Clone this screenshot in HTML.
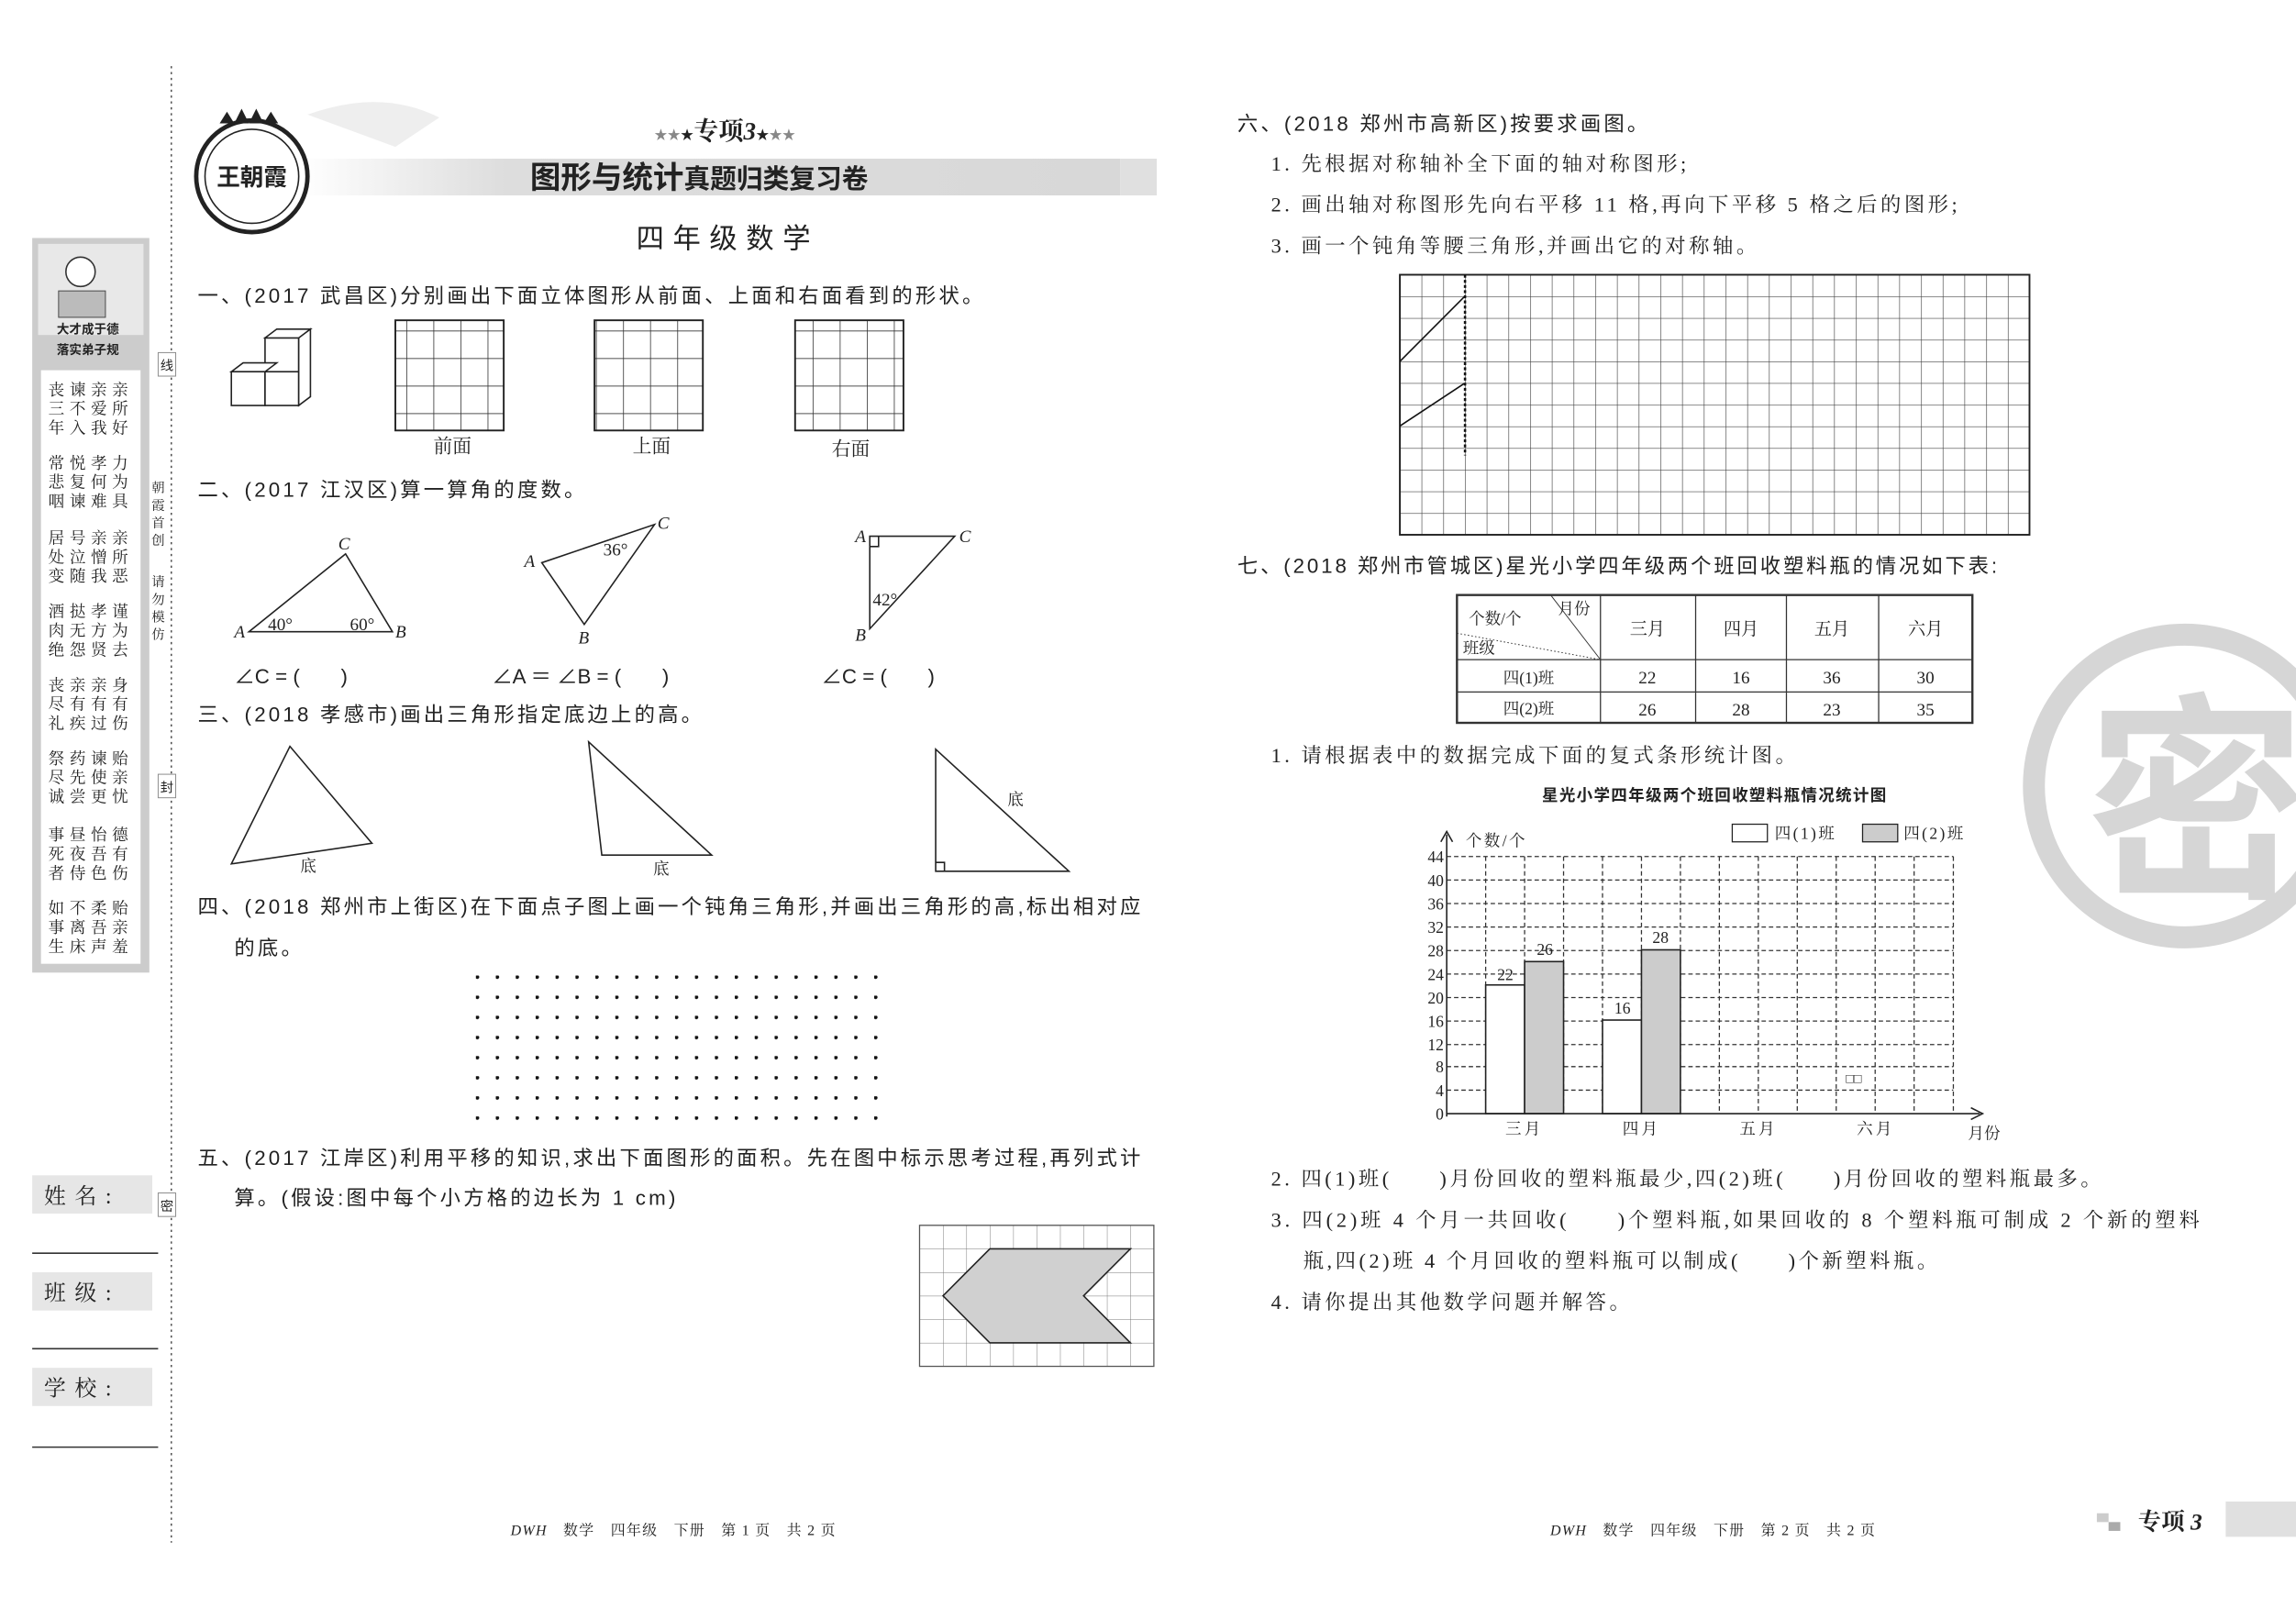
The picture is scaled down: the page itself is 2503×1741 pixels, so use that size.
<!DOCTYPE html>
<html><head><meta charset="utf-8"><style>
html,body{margin:0;padding:0;background:#fff;}
svg{display:block;}
text{font-family:"Liberation Sans","Noto Sans CJK SC",sans-serif;fill:#222;}
.s{font-family:"Liberation Serif","Noto Serif CJK SC",serif;}
.q{letter-spacing:2px;}
.r{letter-spacing:2.2px;}
</style></head><body>
<svg width="2503" height="1741" viewBox="0 0 1568 1087" preserveAspectRatio="none" xmlns="http://www.w3.org/2000/svg">
<defs>
<pattern id="g185" x="0" y="0" width="18.5" height="18.75" patternUnits="userSpaceOnUse"><path d="M0 0H18.5M0 0V18.75" stroke="#333" stroke-width="1" fill="none"/></pattern>
<pattern id="g6" x="956" y="187" width="14.83" height="14.75" patternUnits="userSpaceOnUse"><path d="M0 0H14.83M0 0V14.75" stroke="#444" stroke-width="0.8" fill="none"/></pattern>
<pattern id="g5" x="628" y="834" width="16" height="16" patternUnits="userSpaceOnUse"><path d="M0 0H16M0 0V16" stroke="#777" stroke-width="0.6" fill="none"/></pattern>
<pattern id="dots" x="325" y="664" width="13.6" height="13.7" patternUnits="userSpaceOnUse"><circle cx="1" cy="1" r="1.3" fill="#111"/></pattern>
<linearGradient id="ban" x1="0" x2="1"><stop offset="0" stop-color="#fff"/><stop offset="0.25" stop-color="#ddd"/><stop offset="1" stop-color="#d8d8d8"/></linearGradient>
</defs>

<line x1="117" y1="45" x2="117" y2="1050" stroke="#555" stroke-width="1" stroke-dasharray="1.5 2.5"/>
<rect x="108" y="240" width="12" height="16" fill="#fff" stroke="#888" stroke-width="0.6"/><text x="114" y="252" font-size="9" text-anchor="middle">线</text>
<rect x="108" y="527" width="12" height="16" fill="#fff" stroke="#888" stroke-width="0.6"/><text x="114" y="539" font-size="9" text-anchor="middle">封</text>
<rect x="108" y="812" width="12" height="16" fill="#fff" stroke="#888" stroke-width="0.6"/><text x="114" y="824" font-size="9" text-anchor="middle">密</text>
<g font-size="9" text-anchor="middle" class="s"><text x="108" y="335" class="s">朝</text><text x="108" y="347" class="s">霞</text><text x="108" y="359" class="s">首</text><text x="108" y="371" class="s">创</text><text x="108" y="399" class="s">请</text><text x="108" y="411" class="s">勿</text><text x="108" y="423" class="s">模</text><text x="108" y="435" class="s">仿</text></g>

<rect x="22" y="162" width="80" height="500" fill="#ccc"/>
<rect x="26" y="166" width="72" height="62" fill="#e8e8e8"/>
<circle cx="55" cy="185" r="10" fill="#fff" stroke="#333"/><rect x="40" y="198" width="32" height="18" fill="#bbb" stroke="#444" stroke-width="0.6"/>
<text x="60" y="227" font-size="8.5" font-weight="bold" text-anchor="middle">大才成于德</text>
<text x="60" y="241" font-size="8.5" font-weight="bold" text-anchor="middle">落实弟子规</text>
<rect x="28" y="252" width="68" height="404" fill="#fff"/>
<g font-size="11" class="s" fill="#333">
<text x="33" y="269" class="s" letter-spacing="3.5">丧谏亲亲</text><text x="33" y="282" class="s" letter-spacing="3.5">三不爱所</text><text x="33" y="295" class="s" letter-spacing="3.5">年入我好</text>
<text x="33" y="319" class="s" letter-spacing="3.5">常悦孝力</text><text x="33" y="332" class="s" letter-spacing="3.5">悲复何为</text><text x="33" y="345" class="s" letter-spacing="3.5">咽谏难具</text>
<text x="33" y="370" class="s" letter-spacing="3.5">居号亲亲</text><text x="33" y="383" class="s" letter-spacing="3.5">处泣憎所</text><text x="33" y="396" class="s" letter-spacing="3.5">变随我恶</text>
<text x="33" y="420" class="s" letter-spacing="3.5">酒挞孝谨</text><text x="33" y="433" class="s" letter-spacing="3.5">肉无方为</text><text x="33" y="446" class="s" letter-spacing="3.5">绝怨贤去</text>
<text x="33" y="470" class="s" letter-spacing="3.5">丧亲亲身</text><text x="33" y="483" class="s" letter-spacing="3.5">尽有有有</text><text x="33" y="496" class="s" letter-spacing="3.5">礼疾过伤</text>
<text x="33" y="520" class="s" letter-spacing="3.5">祭药谏贻</text><text x="33" y="533" class="s" letter-spacing="3.5">尽先使亲</text><text x="33" y="546" class="s" letter-spacing="3.5">诚尝更忧</text>
<text x="33" y="572" class="s" letter-spacing="3.5">事昼怡德</text><text x="33" y="585" class="s" letter-spacing="3.5">死夜吾有</text><text x="33" y="598" class="s" letter-spacing="3.5">者侍色伤</text>
<text x="33" y="622" class="s" letter-spacing="3.5">如不柔贻</text><text x="33" y="635" class="s" letter-spacing="3.5">事离吾亲</text><text x="33" y="648" class="s" letter-spacing="3.5">生床声羞</text>
</g>
<g font-size="15" class="s">
<rect x="22" y="800" width="82" height="26" fill="#e6e6e6"/><text x="30" y="819" class="s" letter-spacing="6">姓名:</text>
<line x1="22" y1="853" x2="108" y2="853" stroke="#333"/>
<rect x="22" y="866" width="82" height="26" fill="#e6e6e6"/><text x="30" y="885" class="s" letter-spacing="6">班级:</text>
<line x1="22" y1="918" x2="108" y2="918" stroke="#333"/>
<rect x="22" y="931" width="82" height="26" fill="#e6e6e6"/><text x="30" y="950" class="s" letter-spacing="6">学校:</text>
<line x1="22" y1="985" x2="108" y2="985" stroke="#333"/>
</g>

<path d="M210 78 Q260 60 300 80 L270 100 Z" fill="#eee"/>
<rect x="205" y="108" width="560" height="25" fill="url(#ban)"/>
<rect x="765" y="108" width="25" height="25" fill="#ccc" opacity="0.6"/>
<circle cx="172" cy="120" r="38" fill="#fff" stroke="#222" stroke-width="3"/>
<circle cx="172" cy="120" r="32" fill="none" stroke="#222" stroke-width="1"/>
<text x="172" y="126" font-size="16" font-weight="bold" text-anchor="middle">王朝霞</text>
<path d="M150 84 l5 -8 l5 8 l5 -10 l5 10 l5 -10 l5 10 l5 -8 l5 8 z" fill="#222"/>
<text x="495" y="95" font-size="17" text-anchor="middle" class="s" font-weight="bold"><tspan font-size="9" fill="#888">★★</tspan><tspan font-size="9">★</tspan>专项<tspan font-style="italic">3</tspan><tspan font-size="9">★</tspan><tspan font-size="9" fill="#888">★★</tspan></text>
<text x="362" y="128" font-size="21" font-weight="bold">图形与统计<tspan font-size="18" font-weight="bold">真题归类复习卷</tspan></text>
<text x="497" y="169" font-size="19" text-anchor="middle" letter-spacing="6">四年级数学</text>

<text x="135" y="206" font-size="14" class="q">一、(2017 武昌区)分别画出下面立体图形从前面、上面和右面看到的形状。</text>
<g fill="#fff" stroke="#222" stroke-width="1">
<rect x="158" y="253" width="23" height="23"/><rect x="181" y="253" width="23" height="23"/><rect x="181" y="230" width="23" height="23"/>
<path d="M158 253 l8 -6 h23 l-8 6 z M181 230 l8 -6 h23 l-8 6 z M204 230 l8 -6 v46 l-8 6 z"/>
</g>
<rect x="270" y="218" width="74" height="75" fill="url(#g185)" stroke="#222" stroke-width="1.2"/>
<rect x="406" y="218" width="74" height="75" fill="url(#g185)" stroke="#222" stroke-width="1.2"/>
<rect x="543" y="218" width="74" height="75" fill="url(#g185)" stroke="#222" stroke-width="1.2"/>
<g font-size="13" text-anchor="middle" class="s"><text x="309" y="308" class="s">前面</text><text x="445" y="308" class="s">上面</text><text x="581" y="310" class="s">右面</text></g>

<text x="135" y="338" font-size="14" class="q">二、(2017 江汉区)算一算角的度数。</text>
<g fill="none" stroke="#222" stroke-width="1">
<path d="M170 430 L268 430 L236 377 Z"/><path d="M370 383 L447 357 L399 425 Z"/><path d="M594 365 L652 365 L594 428 Z"/>
<path d="M594 372 h6 v-7"/>
</g>
<g font-size="12" font-style="italic" class="s">
<text x="160" y="434" class="s">A</text><text x="270" y="434" class="s">B</text><text x="231" y="374" class="s">C</text>
<text x="183" y="429" class="s" font-style="normal">40°</text><text x="239" y="429" class="s" font-style="normal">60°</text>
<text x="358" y="386" class="s">A</text><text x="449" y="360" class="s">C</text><text x="395" y="438" class="s">B</text><text x="412" y="378" class="s" font-style="normal">36°</text>
<text x="584" y="369" class="s">A</text><text x="655" y="369" class="s">C</text><text x="584" y="436" class="s">B</text><text x="596" y="412" class="s" font-style="normal">42°</text>
</g>
<g font-size="14"><text x="160" y="465">∠C = (　　)</text><text x="336" y="465">∠A ＝ ∠B = (　　)</text><text x="561" y="465">∠C = (　　)</text></g>

<text x="135" y="491" font-size="14" class="q">三、(2018 孝感市)画出三角形指定底边上的高。</text>
<g fill="none" stroke="#222" stroke-width="1">
<path d="M158 588 L198 508 L254 574 Z"/><path d="M402 505 L411 582 L486 582 Z"/><path d="M639 510 L639 593 L730 593 Z"/><path d="M639 587 h6 v6"/>
</g>
<g font-size="11" class="s"><text x="205" y="593" class="s">底</text><text x="446" y="595" class="s">底</text><text x="688" y="548" class="s">底</text></g>

<text x="135" y="622" font-size="14" class="q">四、(2018 郑州市上街区)在下面点子图上画一个钝角三角形,并画出三角形的高,标出相对应</text>
<text x="160" y="650" font-size="14" class="q">的底。</text>
<rect x="324" y="663" width="286" height="108" fill="url(#dots)"/>

<text x="135" y="793" font-size="14" class="q">五、(2017 江岸区)利用平移的知识,求出下面图形的面积。先在图中标示思考过程,再列式计</text>
<text x="160" y="820" font-size="14" class="q">算。(假设:图中每个小方格的边长为 1 cm)</text>
<rect x="628" y="834" width="160" height="96" fill="url(#g5)" stroke="#555" stroke-width="0.8"/>
<path d="M644 882 L676 850 L772 850 L740 882 L772 914 L676 914 Z" fill="#d0d0d0" stroke="#222" stroke-width="1"/>

<text x="460" y="1045" font-size="10" text-anchor="middle" class="s" letter-spacing="0.8"><tspan font-style="italic">DWH</tspan>　数学　四年级　下册　第 1 页　共 2 页</text>

<circle cx="1492" cy="535" r="103" fill="none" stroke="#d6d6d6" stroke-width="15"/>
<text x="1500" y="600" font-size="150" font-weight="bold" text-anchor="middle" style="fill:#d6d6d6">密</text>

<text x="845" y="89" font-size="14" class="q">六、(2018 郑州市高新区)按要求画图。</text>
<g font-size="14" class="s">
<text x="868" y="116" class="s r">1. 先根据对称轴补全下面的轴对称图形;</text>
<text x="868" y="144" class="s r">2. 画出轴对称图形先向右平移 11 格,再向下平移 5 格之后的图形;</text>
<text x="868" y="172" class="s r">3. 画一个钝角等腰三角形,并画出它的对称轴。</text>
</g>
<rect x="956" y="187" width="430" height="177" fill="url(#g6)" stroke="#222" stroke-width="1.2"/>
<line x1="1000.5" y1="187" x2="1000.5" y2="310" stroke="#111" stroke-width="1.6" stroke-dasharray="2 1.5"/>
<path d="M956 246 L1000 202 M956 290 L1000 261" stroke="#111" stroke-width="1" fill="none"/>

<text x="845" y="390" font-size="14" letter-spacing="1.8">七、(2018 郑州市管城区)星光小学四年级两个班回收塑料瓶的情况如下表:</text>
<g stroke="#333" fill="none">
<rect x="995" y="405" width="352" height="87" stroke-width="1.5"/>
<path d="M995 449 H1347 M995 471 H1347 M1093 405 V492 M1158 405 V492 M1220 405 V492 M1283 405 V492" stroke-width="0.8"/>
<path d="M1059 405 L1093 449" stroke-width="0.6"/>
<path d="M995 431 L1093 449" stroke-width="0.6" stroke-dasharray="1 1.5"/>
</g>
<g font-size="11" class="s">
<text x="1003" y="425" class="s">个数/个</text><text x="1064" y="418" class="s">月份</text><text x="999" y="445" class="s">班级</text>
</g>
<g font-size="12" text-anchor="middle" class="s">
<text x="1125" y="432" class="s">三月</text><text x="1189" y="432" class="s">四月</text><text x="1251" y="432" class="s">五月</text><text x="1315" y="432" class="s">六月</text>
<text x="1044" y="465" class="s" font-size="11">四(1)班</text><text x="1125" y="465" class="s">22</text><text x="1189" y="465" class="s">16</text><text x="1251" y="465" class="s">36</text><text x="1315" y="465" class="s">30</text>
<text x="1044" y="486" class="s" font-size="11">四(2)班</text><text x="1125" y="487" class="s">26</text><text x="1189" y="487" class="s">28</text><text x="1251" y="487" class="s">23</text><text x="1315" y="487" class="s">35</text>
</g>
<text x="868" y="519" font-size="14" class="s r">1. 请根据表中的数据完成下面的复式条形统计图。</text>
<text x="1171" y="545" font-size="11" font-weight="bold" text-anchor="middle" letter-spacing="0.8">星光小学四年级两个班回收塑料瓶情况统计图</text>

<g stroke="#333" stroke-width="0.8" stroke-dasharray="3 2" fill="none">
<path d="M988 583 H1334 M988 599 H1334 M988 615 H1334 M988 631 H1334 M988 647 H1334 M988 663 H1334 M988 679 H1334 M988 695 H1334 M988 711 H1334 M988 726 H1334 M988 742 H1334"/>
<path d="M1014.6 583 V758 M1041.2 583 V758 M1067.8 583 V758 M1094.4 583 V758 M1121 583 V758 M1147.6 583 V758 M1174.2 583 V758 M1200.8 583 V758 M1227.4 583 V758 M1254 583 V758 M1280.6 583 V758 M1307.2 583 V758 M1334 583 V758"/>
</g>
<rect x="1014.6" y="670.4" width="26.6" height="87.6" fill="#fff" stroke="#222" stroke-width="1"/>
<rect x="1041.2" y="654.5" width="26.6" height="103.5" fill="#ccc" stroke="#222" stroke-width="1"/>
<rect x="1094.4" y="694.3" width="26.6" height="63.7" fill="#fff" stroke="#222" stroke-width="1"/>
<rect x="1121" y="646.5" width="26.6" height="111.5" fill="#ccc" stroke="#222" stroke-width="1"/>
<path d="M988 760 V568 M984 573 L988 566 L992 573 M988 758 H1352 M1346 754 L1354 758 L1346 762" stroke="#222" stroke-width="1" fill="none"/>
<g font-size="11" class="s" text-anchor="end">
<text x="986" y="587" class="s">44</text><text x="986" y="603" class="s">40</text><text x="986" y="619" class="s">36</text><text x="986" y="635" class="s">32</text><text x="986" y="651" class="s">28</text><text x="986" y="667" class="s">24</text><text x="986" y="683" class="s">20</text><text x="986" y="699" class="s">16</text><text x="986" y="715" class="s">12</text><text x="986" y="730" class="s">8</text><text x="986" y="746" class="s">4</text><text x="986" y="762" class="s">0</text>
</g>
<g font-size="11" class="s" text-anchor="middle">
<text x="1028" y="667" class="s">22</text><text x="1055" y="650" class="s">26</text><text x="1108" y="690" class="s">16</text><text x="1134" y="642" class="s">28</text>
<text x="1041" y="772" class="s" letter-spacing="2">三月</text><text x="1121" y="772" class="s" letter-spacing="2">四月</text><text x="1201" y="772" class="s" letter-spacing="2">五月</text><text x="1281" y="772" class="s" letter-spacing="2">六月</text>
<text x="1355" y="775" class="s">月份</text>
<text x="1022" y="576" class="s" letter-spacing="1.5">个数/个</text>
<text x="1266" y="737" class="s" font-size="9">□□</text>
</g>
<rect x="1183" y="561" width="24" height="12" fill="#fff" stroke="#222" stroke-width="0.8"/>
<text x="1212" y="571" font-size="11" class="s" letter-spacing="1.5">四(1)班</text>
<rect x="1272" y="561" width="24" height="12" fill="#ccc" stroke="#222" stroke-width="0.8"/>
<text x="1300" y="571" font-size="11" class="s" letter-spacing="1.5">四(2)班</text>

<g font-size="14" class="s">
<text x="868" y="807" class="s r">2. 四(1)班(　　)月份回收的塑料瓶最少,四(2)班(　　)月份回收的塑料瓶最多。</text>
<text x="868" y="835" class="s" letter-spacing="2.4">3. 四(2)班 4 个月一共回收(　　)个塑料瓶,如果回收的 8 个塑料瓶可制成 2 个新的塑料</text>
<text x="890" y="863" class="s r">瓶,四(2)班 4 个月回收的塑料瓶可以制成(　　)个新塑料瓶。</text>
<text x="868" y="891" class="s r">4. 请你提出其他数学问题并解答。</text>
</g>

<text x="1170" y="1045" font-size="10" text-anchor="middle" class="s" letter-spacing="0.8"><tspan font-style="italic">DWH</tspan>　数学　四年级　下册　第 2 页　共 2 页</text>
<rect x="1432" y="1030" width="8" height="6" fill="#ccc"/><rect x="1440" y="1036" width="8" height="6" fill="#aaa"/>
<text x="1460" y="1041" font-size="16" font-weight="bold" class="s">专项 <tspan font-style="italic">3</tspan></text>
<rect x="1520" y="1022" width="48" height="24" fill="#e0e0e0"/>
</svg>
</body></html>
